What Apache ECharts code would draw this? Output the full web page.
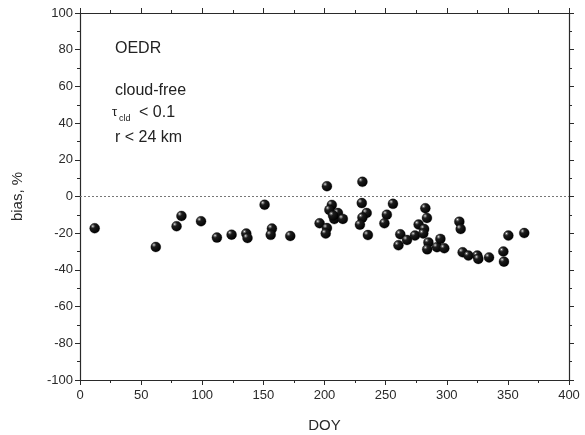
<!DOCTYPE html>
<html>
<head>
<meta charset="utf-8">
<script src="https://cdn.jsdelivr.net/npm/echarts@6/dist/echarts.min.js"></script>
<style>
  html, body { margin: 0; padding: 0; background: #fff; }
  #chart { width: 585px; height: 435px; }
</style>
</head>
<body>
<div id="chart"></div>
<script>
// day of year and bias (%)
var doy = [12, 62, 79, 83, 99, 112, 124, 136, 137, 151, 157, 156, 172,
  196, 202, 206, 204, 202, 201, 208, 211, 207, 215,
  231, 230.5, 234.5, 231, 229, 235.5, 256, 251, 249,
  262, 260.5, 267.5, 274, 277, 282.5, 283.8, 281.5, 280.8, 285, 284,
  292, 294.8, 298, 310.3, 311.4, 313, 317.7, 325, 325.8, 334.6,
  346.3, 346.8, 350.4, 363.4];
var bias = [-17.3, -27.5, -16.2, -10.6, -13.5, -22.4, -20.8, -20.2, -22.6, -4.5, -17.5, -20.9, -21.5,
  -14.6, 5.6, -4.6, -7.3, -17.2, -20.2, -12.3, -9.0, -10.4, -12.2,
  8.0, -3.6, -9.0, -11.5, -15.4, -21.0, -4.0, -9.9, -14.6,
  -20.6, -26.6, -23.7, -21.3, -15.3, -6.4, -11.7, -17.7, -20.2, -25.0, -28.8,
  -27.6, -23.1, -28.2, -13.7, -17.7, -30.4, -32.2, -32.2, -34.0, -33.2,
  -30.0, -35.5, -21.3, -19.9];

var xTicks = [0, 400, 50];
var yTicks = [-100, 100, 20];

var points = doy.map(function (d, i) { return [d, bias[i]]; });

var chart = echarts.init(document.getElementById('chart'));

var axisColor = '#2a2a2a';
var font = 'Liberation Sans, Arial, sans-serif';

function xAx(pos, labels) {
  return {
    type: 'value', position: pos, min: xTicks[0], max: xTicks[1], interval: xTicks[2],
    name: labels ? 'DOY' : '', nameLocation: 'middle', nameGap: 38,
    nameTextStyle: { fontSize: 15, color: axisColor, fontFamily: font },
    axisLine: { onZero: false, lineStyle: { color: axisColor, width: 1.2 } },
    axisTick: { show: true, inside: false, length: 5, lineStyle: { color: axisColor } },
    minorTick: { show: true, splitNumber: 2, length: 3, lineStyle: { color: axisColor } },
    axisLabel: { show: labels, color: axisColor, fontSize: 13, fontFamily: font, margin: 9 },
    splitLine: { show: false }
  };
}
function yAx(pos, labels) {
  return {
    type: 'value', position: pos, min: yTicks[0], max: yTicks[1], interval: yTicks[2],
    name: labels ? 'bias, %' : '', nameLocation: 'middle', nameGap: 55, nameRotate: 90,
    nameTextStyle: { fontSize: 15, color: axisColor, fontFamily: font },
    axisLine: { onZero: false, lineStyle: { color: axisColor, width: 1.2 } },
    axisTick: { show: true, inside: false, length: 5, lineStyle: { color: axisColor } },
    minorTick: { show: true, splitNumber: 2, length: 3, lineStyle: { color: axisColor } },
    axisLabel: { show: labels, color: axisColor, fontSize: 13, fontFamily: font, margin: 7 },
    splitLine: { show: false }
  };
}

var option = {
  animation: false,
  backgroundColor: '#fff',
  grid: { left: 80, right: 16, top: 13, bottom: 55, outerBoundsMode: 'none', containLabel: false },
  xAxis: [xAx('bottom', true), xAx('top', false)],
  yAxis: [yAx('left', true), yAx('right', false)],
  graphic: [
    { type: 'text', left: 115, top: 41, style: { text: 'OEDR', fontSize: 16, fontFamily: font, fill: '#222' } },
    { type: 'text', left: 115, top: 83, style: { text: 'cloud-free', fontSize: 16, fontFamily: font, fill: '#222' } },
    { type: 'text', left: 112, top: 106, style: { text: 'τ', fontSize: 13, fontFamily: font, fill: '#222' } },
    { type: 'text', left: 119, top: 114, style: { text: 'cld', fontSize: 9, fontFamily: font, fill: '#222' } },
    { type: 'text', left: 139, top: 105, style: { text: '< 0.1', fontSize: 16, fontFamily: font, fill: '#222' } },
    { type: 'text', left: 115, top: 130, style: { text: 'r < 24 km', fontSize: 16, fontFamily: font, fill: '#222' } }
  ],
  series: [{
    type: 'scatter',
    data: points,
    symbolSize: 10,
    itemStyle: {
      opacity: 1,
      color: new echarts.graphic.RadialGradient(0.32, 0.3, 0.75, [
        { offset: 0, color: '#f4f4f4' },
        { offset: 0.12, color: '#777' },
        { offset: 0.3, color: '#1c1c1c' },
        { offset: 1, color: '#000' }
      ]),
      borderColor: '#000', borderWidth: 0.3
    },
    markLine: {
      silent: true, symbol: 'none', label: { show: false },
      lineStyle: { type: [2, 2], color: '#777', width: 1 },
      data: [{ yAxis: 0 }]
    }
  }]
};

chart.setOption(option);
</script>
</body>
</html>
